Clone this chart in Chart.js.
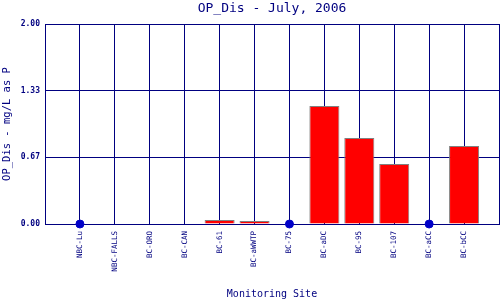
<!DOCTYPE html>
<html>
<head>
<meta charset="utf-8">
<script src="https://cdn.jsdelivr.net/npm/chart.js@4"></script>
<style>
  html, body { margin: 0; padding: 0; background: #fff; }
  #wrap { width: 500px; height: 300px; }
</style>
</head>
<body>
<div id="wrap"><canvas id="chart"></canvas></div>
<script>
const sites = ['NBC-Lu', 'NBC-FALLS', 'BC-ORO', 'BC-CAN', 'BC-61', 'BC-aWWTP', 'BC-75', 'BC-aDC', 'BC-95', 'BC-107', 'BC-aCC', 'BC-bCC'];
// null = no bar, site shown with a dot at zero
const opDis = [null, 0, 0, 0, 0.04, 0.03, null, 1.18, 0.86, 0.60, null, 0.78];
const dotSites = ['NBC-Lu', 'BC-75', 'BC-aCC'];
const yTickValues = [0, 0.6667, 1.3333, 2.0];

const navy = '#000080';
const mono = 'DejaVu Sans Mono';

// title centred over the plot area, not the whole canvas
const plotTitle = {
  id: 'plotTitle',
  afterDraw(chart) {
    const { ctx, chartArea } = chart;
    ctx.save();
    ctx.font = '13px "' + mono + '"';
    ctx.fillStyle = navy;
    ctx.textAlign = 'center';
    ctx.textBaseline = 'middle';
    ctx.fillText('OP_Dis - July, 2006', (chartArea.left + chartArea.right) / 2, 9);
    ctx.restore();
  }
};

new Chart(document.getElementById('chart').getContext('2d'), {
  type: 'bar',
  data: {
    datasets: [{
      type: 'scatter',
      data: dotSites.map(s => ({ x: sites.indexOf(s), y: 0 })),
      backgroundColor: '#0000c8',
      borderColor: '#0000c8',
      pointRadius: 4,
      clip: false,
      order: 0
    }, {
      data: opDis.map((v, i) => ({ x: i, y: v })),
      backgroundColor: '#ff0000',
      borderColor: '#808080',
      borderWidth: 1,
      barPercentage: 0.86,
      categoryPercentage: 1,
      order: 1
    }]
  },
  options: {
    responsive: true,
    maintainAspectRatio: false,
    animation: false,
    layout: { autoPadding: false, padding: { top: 24, right: 1, left: 0, bottom: 0 } },
    plugins: {
      legend: { display: false },
      tooltip: { enabled: false }
    },
    scales: {
      x: {
        type: 'linear',
        offset: false,
        min: -1,
        max: 12,
        afterFit(scale) {
          scale.height = 76;
          scale.paddingLeft = 0;
          scale.paddingRight = 0;
        },
        afterBuildTicks(scale) {
          scale.ticks = [];
          for (let i = -1; i <= sites.length; i++) scale.ticks.push({ value: i });
        },
        grid: { color: navy, lineWidth: 1, drawTicks: false, offset: false },
        border: { color: navy },
        ticks: {
          autoSkip: false,
          maxRotation: 90,
          minRotation: 90,
          padding: 7,
          color: navy,
          font: { family: mono, size: 7.5 },
          callback: v => sites[v] || ''
        },
        title: {
          display: true,
          text: 'Monitoring Site',
          color: navy,
          font: { family: mono, size: 10 },
          padding: 0
        }
      },
      y: {
        min: 0,
        max: 2,
        afterFit(scale) {
          scale.width = 45;
          scale.paddingTop = 0;
          scale.paddingBottom = 0;
        },
        afterBuildTicks(scale) { scale.ticks = yTickValues.map(v => ({ value: v })); },
        grid: { color: navy, lineWidth: 1, drawTicks: false },
        border: { color: navy },
        ticks: {
          padding: 5,
          color: navy,
          font: { family: mono, size: 8, weight: 'bold' },
          callback: v => v.toFixed(2)
        },
        title: {
          display: true,
          text: 'OP_Dis - mg/L as P',
          color: navy,
          font: { family: mono, size: 10.5 },
          padding: { top: 1, bottom: 0 }
        }
      }
    }
  },
  plugins: [plotTitle]
});
</script>
</body>
</html>
